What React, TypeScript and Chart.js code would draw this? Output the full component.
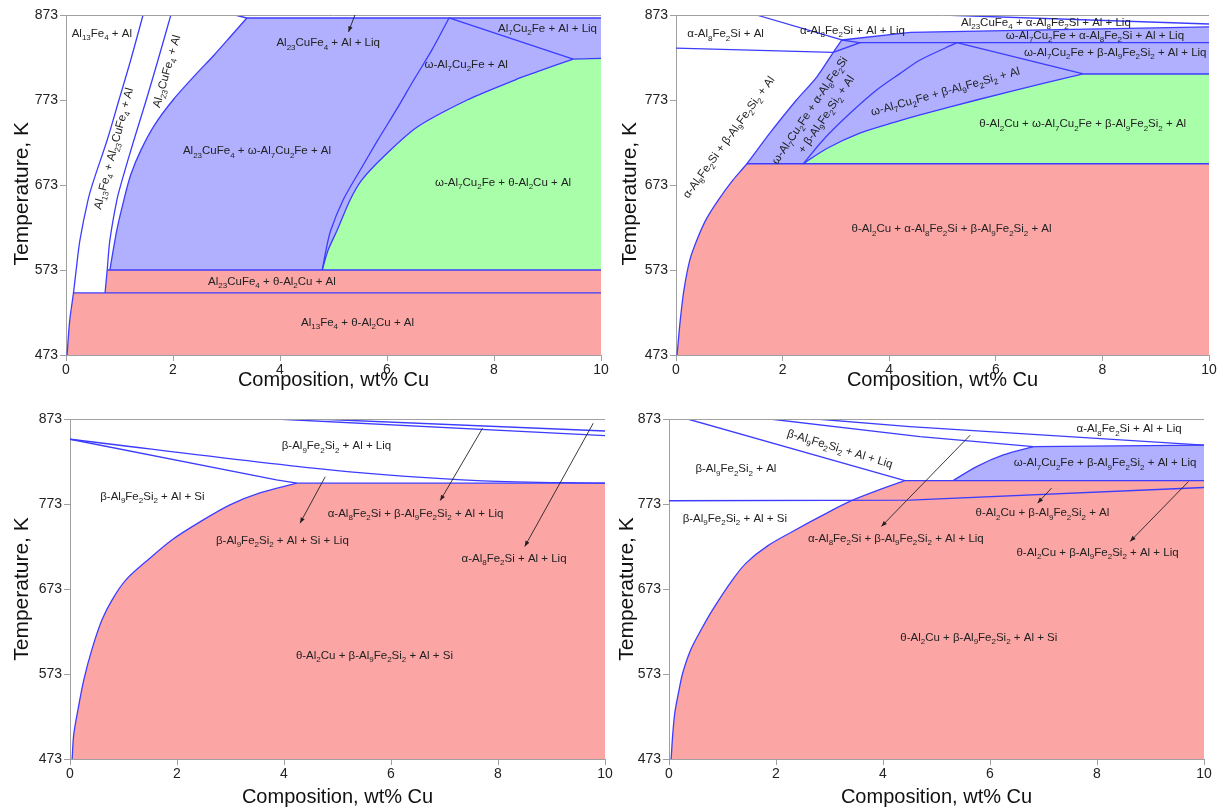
import React, { useEffect, useRef } from "react";
import { Chart, registerables } from "chart.js";

Chart.register(...registerables);

type Pt = [number, number];

// ---------------- axis ticks ----------------
const tempTicks = [473, 573, 673, 773, 873];
const compTicks = [0, 2, 4, 6, 8, 10];

// ---------------- Panel 1 (top-left) boundaries [wt% Cu, K] ----------------
const p1CurveA: Pt[] = [[0.02, 473], [0.07, 514], [0.14, 546], [0.19, 573], [0.26, 608], [0.41, 655], [0.52, 679], [0.77, 726], [0.99, 773], [1.21, 820], [1.44, 873]];
const p1CurveB: Pt[] = [[0.73, 546], [0.77, 573], [0.82, 608], [0.95, 655], [1.05, 679], [1.27, 726], [1.5, 773], [1.72, 820], [1.96, 873]];
const p1CurveC: Pt[] = [[0.82, 573], [0.95, 620], [1.08, 655], [1.21, 685], [1.4, 714], [1.66, 744], [2.0, 773], [2.41, 802], [2.77, 826], [3.1, 849.5], [3.38, 869.5]];
const p1Top: Pt[] = [[3.16, 873], [3.38, 869.5], [10, 869.5]];
const p1CurveD: Pt[] = [[7.16, 869.5], [6.84, 832], [6.5, 796.5], [6.17, 761], [5.83, 726], [5.5, 690.6], [5.18, 655.4], [4.95, 620], [4.86, 596.5], [4.79, 573]];
const p1CurveE: Pt[] = [[4.79, 573], [4.9, 596.5], [5.07, 620], [5.31, 655.4], [5.53, 679], [5.93, 706], [6.56, 741], [7.5, 773], [8.39, 796.5], [8.8, 806], [9.48, 821.2]];
const p1GreenTop: Pt[] = [[9.48, 821.2], [10, 822]];
const p1CurveF: Pt[] = [[7.16, 869.5], [9.48, 821.2]];
const p1Iso573: Pt[] = [[0.77, 573], [10, 573]];
const p1Iso546: Pt[] = [[0.14, 546], [10, 546]];

const p1Labels = [
  { text: "Al_13Fe_4 + Al", x: 0.67, y: 852, rot: 0 },
  { text: "Al_13Fe_4 + Al_23CuFe_4 + Al", x: 0.88, y: 716, rot: -75 },
  { text: "Al_23CuFe_4 + Al", x: 1.87, y: 807, rot: -74 },
  { text: "Al_23CuFe_4 + Al + Liq", x: 4.9, y: 841, rot: 0 },
  { text: "Al_7Cu_2Fe + Al + Liq", x: 9.0, y: 858, rot: 0 },
  { text: "ω-Al_7Cu_2Fe + Al", x: 7.48, y: 816, rot: 0 },
  { text: "Al_23CuFe_4 + ω-Al_7Cu_2Fe + Al", x: 3.57, y: 714, rot: 0 },
  { text: "ω-Al_7Cu_2Fe + θ-Al_2Cu + Al", x: 8.17, y: 677, rot: 0 },
  { text: "Al_23CuFe_4 + θ-Al_2Cu + Al", x: 3.85, y: 560, rot: 0 },
  { text: "Al_13Fe_4 + θ-Al_2Cu + Al", x: 5.45, y: 512, rot: 0 },
];
const p1Arrows = [{ x1: 5.4, y1: 873, x2: 5.28, y2: 853 }];

// ---------------- Panel 2 (top-right) ----------------
const p2Left: Pt[] = [[0.02, 473], [0.08, 514], [0.15, 550], [0.26, 585], [0.39, 608], [0.56, 632], [0.79, 655], [1.07, 679], [1.33, 698], [1.76, 734], [2.26, 773], [2.64, 800], [2.95, 829]];
const p2Solvus: Pt[] = [[0, 834], [2.95, 829]];
const p2Upper: Pt[] = [[1.51, 873], [3.11, 843.6]];
const p2Knot: Pt[] = [[2.95, 829], [3.11, 843.6], [3.45, 840.4], [2.95, 829]];
const p2LiqLow: Pt[] = [[3.11, 843.6], [4.4, 852.6], [10, 859]];
const p2LiqHigh: Pt[] = [[5.01, 873], [10, 862.4]];
const p2Iso840: Pt[] = [[3.45, 840.4], [10, 840.4]];
const p2V1: Pt[] = [[2.39, 698], [2.76, 726], [3.26, 757], [3.77, 785], [4.2, 804], [4.58, 820], [5.27, 840.4]];
const p2Q: Pt[] = [[5.27, 840.4], [7.64, 803.6]];
const p2V2: Pt[] = [[2.39, 698], [2.83, 716], [3.45, 734], [4.14, 747.5], [4.58, 755.4], [5.64, 773], [6.89, 792.6], [7.64, 803.6]];
const p2Iso804: Pt[] = [[7.64, 803.6], [10, 803.6]];
const p2Iso698: Pt[] = [[1.33, 698], [10, 698]];

const p2Labels = [
  { text: "α-Al_8Fe_2Si + Al", x: 0.93, y: 851.5, rot: 0 },
  { text: "α-Al_8Fe_2Si + Al + Liq", x: 3.31, y: 855.3, rot: 0 },
  { text: "Al_23CuFe_4 + α-Al_8Fe_2Si + Al + Liq", x: 6.94, y: 865, rot: 0 },
  { text: "ω-Al_7Cu_2Fe + α-Al_8Fe_2Si + Al + Liq", x: 7.86, y: 849.5, rot: 0 },
  { text: "ω-Al_7Cu_2Fe + β-Al_9Fe_2Si_2 + Al + Liq", x: 8.24, y: 829.8, rot: 0 },
  { text: "θ-Al_2Cu + ω-Al_7Cu_2Fe + β-Al_9Fe_2Si_2 + Al", x: 7.63, y: 745.6, rot: 0 },
  { text: "θ-Al_2Cu + α-Al_8Fe_2Si + β-Al_9Fe_2Si_2 + Al", x: 5.17, y: 622, rot: 0 },
  { text: "α-Al_8Fe_2Si + β-Al_9Fe_2Si_2 + Al", x: 0.98, y: 729.5, rot: -54 },
  { text: "ω-Al_7Cu_2Fe + α-Al_8Fe_2Si", x: 2.5, y: 761, rot: -56 },
  { text: "+ β-Al_9Fe_2Si_2 + Al", x: 2.81, y: 756.5, rot: -56 },
  { text: "ω-Al_7Cu_2Fe + β-Al_9Fe_2Si_2 + Al", x: 5.05, y: 783.6, rot: -15.6 },
];

// ---------------- Panel 3 (bottom-left) ----------------
const p3Red: Pt[] = [[0.04, 473], [0.07, 502], [0.15, 531.5], [0.26, 566.7], [0.41, 602], [0.6, 637], [0.79, 660.6], [1.05, 684], [1.46, 707.5], [1.91, 731], [2.43, 752], [2.99, 772], [3.55, 786], [4.24, 797.5]];
const p3RedTop: Pt[] = [[4.24, 797.5], [10, 797.5]];
const p3W1: Pt[] = [[0, 849.2], [3.86, 801.4], [4.24, 797.5]];
const p3W2: Pt[] = [[0, 849.2], [4.86, 813.1], [7.72, 800.2], [10, 797.5]];
const p3X1: Pt[] = [[3.86, 873], [10, 853.4]];
const p3X2: Pt[] = [[4.61, 873], [10, 858.9]];

const p3Labels = [
  { text: "β-Al_9Fe_2Si_2 + Al + Liq", x: 4.98, y: 842, rot: 0 },
  { text: "β-Al_9Fe_2Si_2 + Al + Si", x: 1.54, y: 783, rot: 0 },
  { text: "β-Al_9Fe_2Si_2 + Al + Si + Liq", x: 3.97, y: 731, rot: 0 },
  { text: "α-Al_8Fe_2Si + β-Al_9Fe_2Si_2 + Al + Liq", x: 6.46, y: 762.3, rot: 0 },
  { text: "α-Al_8Fe_2Si + Al + Liq", x: 8.3, y: 709.5, rot: 0 },
  { text: "θ-Al_2Cu + β-Al_9Fe_2Si_2 + Al + Si", x: 5.69, y: 596, rot: 0 },
];
const p3Arrows = [
  { x1: 4.77, y1: 805, x2: 4.3, y2: 750.5 },
  { x1: 7.71, y1: 862, x2: 6.92, y2: 777 },
  { x1: 9.78, y1: 868, x2: 8.5, y2: 723 },
];

// ---------------- Panel 4 (bottom-right) ----------------
const p4Red: Pt[] = [[0.04, 473], [0.07, 502], [0.11, 528], [0.19, 555], [0.26, 575], [0.41, 602], [0.6, 625], [0.82, 649], [1.19, 684], [1.45, 704], [1.85, 724], [2.32, 741], [2.85, 759], [3.38, 776], [3.9, 789], [4.41, 800.5]];
const p4RedTop: Pt[] = [[4.41, 800.5], [10, 800.5]];
const p4SiLine: Pt[] = [[0, 776.8], [4.5, 777.5], [10, 792.4]];
const p4Z1: Pt[] = [[0.35, 873], [4.41, 800.5]];
const p4Z2: Pt[] = [[1.89, 873], [4.69, 852.2], [6.81, 840.5]];
const p4Z3: Pt[] = [[2.76, 873], [4.5, 864], [10, 842.3]];
const p4Blue: Pt[] = [[5.31, 800.5], [5.75, 817], [6.25, 830.7], [6.81, 840.5]];
const p4BlueTop: Pt[] = [[6.81, 840.5], [10, 842.3]];

const p4Labels = [
  { text: "α-Al_8Fe_2Si + Al + Liq", x: 8.6, y: 862, rot: 0 },
  { text: "β-Al_9Fe_2Si_2 + Al + Liq", x: 3.2, y: 838.6, rot: 16.8 },
  { text: "β-Al_9Fe_2Si_2 + Al", x: 1.25, y: 815, rot: 0 },
  { text: "β-Al_9Fe_2Si_2 + Al + Si", x: 1.23, y: 757, rot: 0 },
  { text: "α-Al_8Fe_2Si + β-Al_9Fe_2Si_2 + Al + Liq", x: 4.24, y: 733, rot: 0 },
  { text: "ω-Al_7Cu_2Fe + β-Al_9Fe_2Si_2 + Al + Liq", x: 8.15, y: 822, rot: 0 },
  { text: "θ-Al_2Cu + β-Al_9Fe_2Si_2 + Al", x: 6.98, y: 763.4, rot: 0 },
  { text: "θ-Al_2Cu + β-Al_9Fe_2Si_2 + Al + Liq", x: 8.01, y: 716.5, rot: 0 },
  { text: "θ-Al_2Cu + β-Al_9Fe_2Si_2 + Al + Si", x: 5.79, y: 617, rot: 0 },
];
const p4Arrows = [
  { x1: 5.63, y1: 854, x2: 3.97, y2: 746.6 },
  { x1: 7.15, y1: 791.7, x2: 6.89, y2: 774 },
  { x1: 9.71, y1: 799.4, x2: 8.62, y2: 729 },
];

// ---------------- styles ----------------
const FONT = '"Liberation Sans", Arial, Helvetica, sans-serif';
const BLUE_FILL = "#b0b0ff";
const GREEN_FILL = "#a9ffa9";
const RED_FILL = "#fca5a5";
const EDGE = "#3c3cff";
const AXIS = "#a0a0a0";
const TEXT = "#222222";
const LABEL_SIZE = 11.5;

const rev = (p: Pt[]) => [...p].reverse();
const toXY = (pts: Pt[]) => pts.map(([x, y]) => ({ x, y }));
// areas get a higher order so they are painted first (under the boundary lines)
const area = (pts: Pt[], color: string) => ({
  data: toXY(pts),
  fill: "shape",
  backgroundColor: color,
  borderColor: "rgba(0,0,0,0)",
  borderWidth: 0,
  pointRadius: 0,
  tension: 0,
  order: 5,
});
const edge = (pts: Pt[], smooth = false) => ({
  data: toXY(pts),
  fill: false,
  borderColor: EDGE,
  borderWidth: 1.3,
  pointRadius: 0,
  tension: smooth ? 0.3 : 0,
  order: 1,
});

// ---------------- panel datasets ----------------
const p1Sets = [
  area([...p1CurveA.slice(0, 3), ...p1CurveB.slice(0, 2), [10, 573], [10, 473]], RED_FILL),
  area([...p1CurveC, [10, 869.5], [10, 822], ...rev(p1CurveE)], BLUE_FILL),
  area([...p1CurveE, [10, 822], [10, 573]], GREEN_FILL),
  edge(p1CurveA, true), edge(p1CurveB, true), edge(p1CurveC, true), edge(p1Top), edge(p1CurveD, true),
  edge(p1CurveE, true), edge(p1GreenTop), edge(p1CurveF), edge(p1Iso573), edge(p1Iso546),
];
const p2Sets = [
  area([...p2Left.slice(0, 9), [10, 698], [10, 473]], RED_FILL),
  area([...p2Left.slice(8), ...p2LiqLow, [10, 803.6], ...rev(p2V2)], BLUE_FILL),
  area([...p2V2, [10, 803.6], [10, 698]], GREEN_FILL),
  edge(p2Left, true), edge(p2Solvus), edge(p2Upper), edge(p2Knot), edge(p2LiqLow), edge(p2LiqHigh),
  edge(p2Iso840), edge(p2V1, true), edge(p2Q), edge(p2V2, true), edge(p2Iso804), edge(p2Iso698),
];
const p3Sets = [
  area([...p3Red, [10, 797.5], [10, 473]], RED_FILL),
  edge(p3Red, true), edge(p3RedTop), edge(p3W1), edge(p3W2, true), edge(p3X1), edge(p3X2),
];
const p4Sets = [
  area([...p4Red, [10, 800.5], [10, 473]], RED_FILL),
  area([...p4Blue, [10, 842.3], [10, 800.5]], BLUE_FILL),
  edge(p4Red, true), edge(p4RedTop), edge(p4SiLine), edge(p4Z1), edge(p4Z2), edge(p4Z3), edge(p4Blue, true), edge(p4BlueTop),
];

type Label = { text: string; x: number; y: number; rot: number };
type Arrow = { x1: number; y1: number; x2: number; y2: number };

const panels = [
  { left: 0, top: 0, w: 614, h: 405, padTop: 15, padRight: 13, yW: 66, xH: 50, yTitlePad: 10, xTitlePad: 13, yTitle: "Temperature, K   ", sets: p1Sets, labels: p1Labels, arrows: p1Arrows },
  { left: 614, top: 0, w: 614, h: 405, padTop: 15, padRight: 19, yW: 62, xH: 50, yTitlePad: 4, xTitlePad: 13, yTitle: "Temperature, K   ", sets: p2Sets, labels: p2Labels, arrows: [] as Arrow[] },
  { left: 0, top: 405, w: 614, h: 406, padTop: 14, padRight: 9, yW: 70, xH: 52, yTitlePad: 10, xTitlePad: 2, yTitle: "Temperature, K", sets: p3Sets, labels: p3Labels, arrows: p3Arrows },
  { left: 614, top: 405, w: 614, h: 406, padTop: 14, padRight: 24, yW: 55, xH: 52, yTitlePad: 1, xTitlePad: 2, yTitle: "Temperature, K", sets: p4Sets, labels: p4Labels, arrows: p4Arrows },
];

// ---------------- rich text (subscripts) ----------------
function parseRuns(s: string) {
  const out: { t: string; sub: boolean }[] = [];
  let buf = "";
  for (let i = 0; i < s.length; i++) {
    const ch = s[i];
    if (ch === "_") {
      if (buf) { out.push({ t: buf, sub: false }); buf = ""; }
      let d = "";
      while (i + 1 < s.length && /[0-9]/.test(s[i + 1])) { d += s[i + 1]; i++; }
      out.push({ t: d, sub: true });
    } else buf += ch;
  }
  if (buf) out.push({ t: buf, sub: false });
  return out;
}

function drawRich(ctx: CanvasRenderingContext2D, s: string, px: number, py: number, rot: number, size: number) {
  const runs = parseRuns(s);
  const big = `${size}px ${FONT}`;
  const small = `${Math.round(size * 0.7)}px ${FONT}`;
  let total = 0;
  const ws = runs.map((r) => {
    ctx.font = r.sub ? small : big;
    const w = ctx.measureText(r.t).width;
    total += w;
    return w;
  });
  ctx.save();
  ctx.translate(px, py);
  ctx.rotate((rot * Math.PI) / 180);
  ctx.textBaseline = "alphabetic";
  ctx.textAlign = "left";
  ctx.fillStyle = TEXT;
  let cx = -total / 2;
  const base = size * 0.36;
  runs.forEach((r, i) => {
    ctx.font = r.sub ? small : big;
    ctx.fillText(r.t, cx, base + (r.sub ? size * 0.28 : 0));
    cx += ws[i];
  });
  ctx.restore();
}

function notesPlugin(labels: Label[], arrows: Arrow[]) {
  return {
    id: "phaseNotes",
    afterDatasetsDraw(chart: any) {
      const { ctx, chartArea } = chart;
      const xs = chart.scales.x;
      const ys = chart.scales.y;
      ctx.save();
      // top frame line
      ctx.strokeStyle = AXIS;
      ctx.lineWidth = 1;
      ctx.beginPath();
      const ty = Math.round(chartArea.top) + 0.5;
      ctx.moveTo(chartArea.left, ty);
      ctx.lineTo(chartArea.right, ty);
      ctx.stroke();
      // arrows
      ctx.strokeStyle = "#222";
      ctx.fillStyle = "#222";
      ctx.lineWidth = 0.9;
      for (const a of arrows) {
        const x1 = xs.getPixelForValue(a.x1), y1 = ys.getPixelForValue(a.y1);
        const x2 = xs.getPixelForValue(a.x2), y2 = ys.getPixelForValue(a.y2);
        ctx.beginPath();
        ctx.moveTo(x1, y1);
        ctx.lineTo(x2, y2);
        ctx.stroke();
        const ang = Math.atan2(y2 - y1, x2 - x1);
        const L = 6, W = 0.38;
        ctx.beginPath();
        ctx.moveTo(x2, y2);
        ctx.lineTo(x2 - L * Math.cos(ang - W), y2 - L * Math.sin(ang - W));
        ctx.lineTo(x2 - L * Math.cos(ang + W), y2 - L * Math.sin(ang + W));
        ctx.closePath();
        ctx.fill();
      }
      for (const l of labels) {
        drawRich(ctx, l.text, xs.getPixelForValue(l.x), ys.getPixelForValue(l.y), l.rot, LABEL_SIZE);
      }
      ctx.restore();
    },
  };
}

function Panel({ p }: { p: (typeof panels)[number] }) {
  const ref = useRef<HTMLCanvasElement>(null);
  useEffect(() => {
    const chart = new Chart(ref.current as HTMLCanvasElement, {
      type: "line",
      data: { datasets: p.sets as any },
      options: {
        responsive: false,
        animation: false,
        events: [],
        layout: { padding: { left: 0, top: p.padTop, right: p.padRight, bottom: 0 }, autoPadding: false } as any,
        plugins: { legend: { display: false }, tooltip: { enabled: false } },
        scales: {
          x: {
            type: "linear",
            min: 0,
            max: 10,
            z: 1,
            afterBuildTicks: (s: any) => { s.ticks = compTicks.map((v) => ({ value: v })); },
            afterFit: (s: any) => { s.height = p.xH; },
            grid: { display: true, drawOnChartArea: false, drawTicks: true, tickLength: 6, tickColor: AXIS },
            border: { display: true, color: AXIS, width: 1 },
            ticks: { font: { family: FONT, size: 14 }, color: "#222", padding: 1, maxRotation: 0, autoSkip: false },
            title: { display: true, text: "Composition, wt% Cu", font: { family: FONT, size: 20 }, color: "#111", padding: { top: 0, bottom: p.xTitlePad } },
          },
          y: {
            type: "linear",
            min: 473,
            max: 873,
            z: 1,
            afterBuildTicks: (s: any) => { s.ticks = tempTicks.map((v) => ({ value: v })); },
            afterFit: (s: any) => { s.width = p.yW; },
            grid: { display: true, drawOnChartArea: false, drawTicks: true, tickLength: 6, tickColor: AXIS },
            border: { display: true, color: AXIS, width: 1 },
            ticks: { font: { family: FONT, size: 14 }, color: "#222", padding: 2, autoSkip: false },
            title: { display: true, text: p.yTitle, font: { family: FONT, size: 21 }, color: "#111", padding: { top: p.yTitlePad, bottom: 0 } },
          },
        },
      } as any,
      plugins: [notesPlugin(p.labels, p.arrows)],
    });
    return () => chart.destroy();
  }, []);
  return (
    <canvas
      ref={ref}
      width={p.w}
      height={p.h}
      style={{ position: "absolute", left: p.left, top: p.top, width: p.w, height: p.h }}
    />
  );
}

export default function App() {
  return (
    <div style={{ position: "absolute", left: 0, top: 0, width: 1228, height: 811, background: "#fff", overflow: "hidden" }}>
      {panels.map((p, i) => (
        <Panel key={i} p={p} />
      ))}
    </div>
  );
}
